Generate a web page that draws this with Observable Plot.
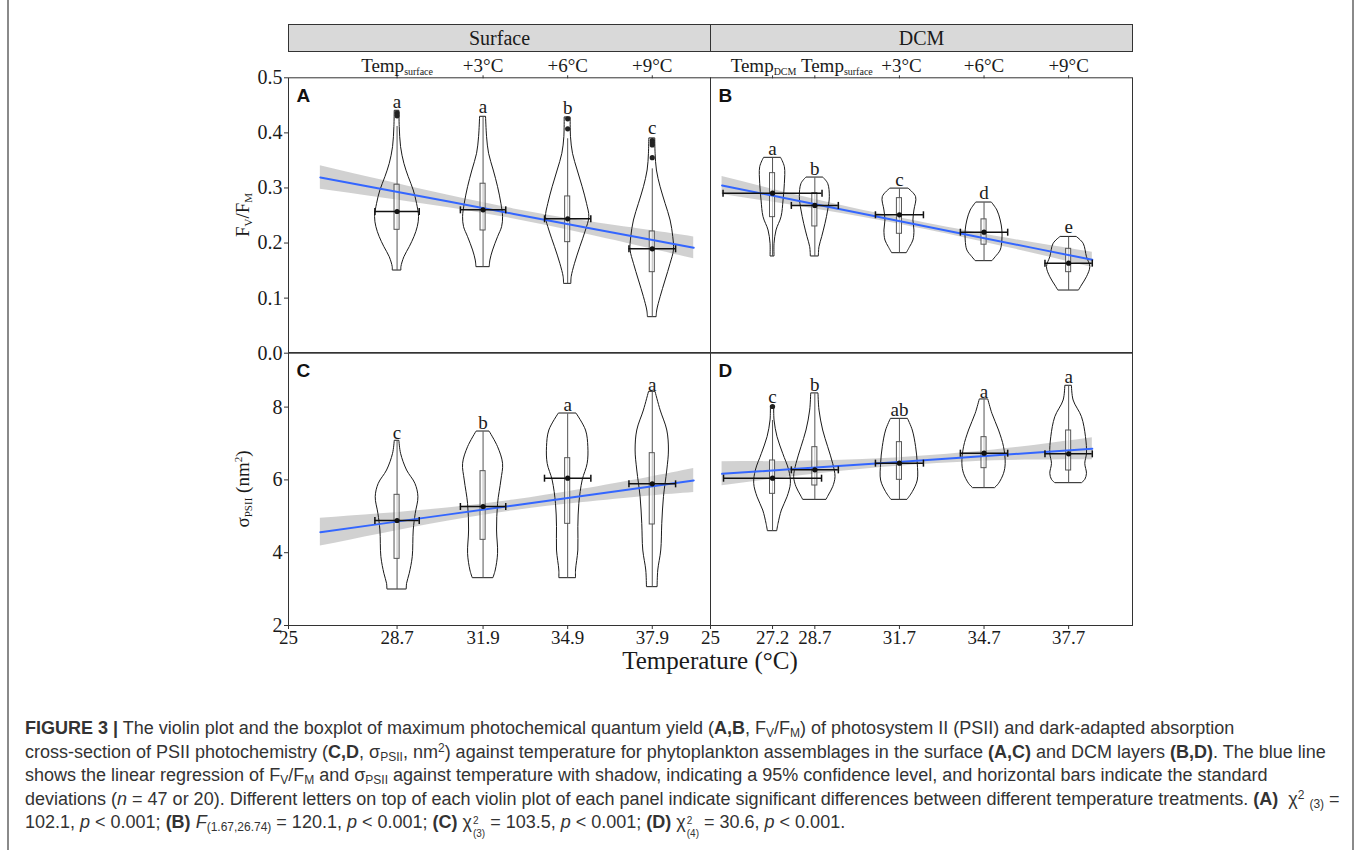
<!DOCTYPE html>
<html>
<head>
<meta charset="utf-8">
<script src="https://cdn.jsdelivr.net/npm/d3@7"></script>
<script src="https://cdn.jsdelivr.net/npm/@observablehq/plot@0.6"></script>
<style>
  html, body { margin: 0; padding: 0; background: #fff; }
  #root { position: relative; width: 1357px; height: 850px; overflow: hidden; background: #fff; }
  .layer { position: absolute; left: 0; top: 0; }
  .strip { position: absolute; top: 24px; height: 28px; box-sizing: border-box; background: #d9d9d9;
           border: 1px solid #333; font: 20px "Liberation Serif", serif; color: #1a1a1a;
           display: flex; align-items: center; justify-content: center; }
  .ylab { position: absolute; transform: translate(-50%, -50%) rotate(-90deg); font: 19px "Liberation Serif", serif;
          color: #1a1a1a; white-space: nowrap; }
  .ylab sub { font-size: 11px; vertical-align: -3px; }
  .ylab sup { font-size: 11px; vertical-align: 7px; }
  .xlab { position: absolute; transform: translate(-50%, -50%); font: 25px "Liberation Serif", serif; color: #1a1a1a; white-space: nowrap; }
  .vline { position: absolute; top: 0; width: 0; height: 850px; border-left: 2px solid #8a8a8a; }
  #caption { position: absolute; left: 25px; top: 717px; font: 18px "Liberation Sans", Arial, sans-serif; color: #333; line-height: 23.5px; }
  #caption div { white-space: nowrap; }
  #caption sub, #caption sup { font-size: 12px; line-height: 0; }
  #caption sub { vertical-align: -3px; }
  #caption sup { vertical-align: 6px; }
  .ss { display: inline-block; vertical-align: -9px; line-height: 13px; font-size: 10px; text-align: left; margin-left: 1px; }
  .ss span { display: block; }
</style>
</head>
<body>
<div id="root"></div>
<script>
// ---------- shared categories / ticks ----------
const xDomain = [25, 39.965];
const surfaceTemps = [28.85, 31.9, 34.9, 37.9];
const surfaceTickLabels = ["28.7", "31.9", "34.9", "37.9"];
const surfaceTopLabels = ["Temp_surface", "+3°C", "+6°C", "+9°C"];
const dcmTemps = [27.2, 28.7, 31.7, 34.7, 37.7];
const dcmTickLabels = ["27.2", "28.7", "31.7", "34.7", "37.7"];
const dcmTopLabels = ["Temp_DCM", "Temp_surface", "+3°C", "+6°C", "+9°C"];
const fvTicks = [0, 0.1, 0.2, 0.3, 0.4, 0.5];
const sigmaTicks = [2, 4, 6, 8];

// ---------- Panel A: Fv/Fm, surface ----------
// violin outline: [value, half-width in °C]
const violinsA = [
  [[0.4394,0.083],[0.4104,0.095],[0.3741,0.142],[0.3438,0.26],[0.3196,0.414],[0.2954,0.591],[0.2712,0.709],[0.2470,0.78],[0.2288,0.733],[0.2107,0.615],[0.1925,0.449],[0.1743,0.26],[0.1562,0.154],[0.1501,0.154]],
  [[0.4285,0.106],[0.3922,0.142],[0.3620,0.213],[0.3317,0.378],[0.3014,0.532],[0.2712,0.65],[0.2470,0.709],[0.2288,0.674],[0.2107,0.532],[0.1865,0.355],[0.1683,0.26],[0.1562,0.236]],
  [[0.4273,0.106],[0.3922,0.118],[0.3620,0.189],[0.3317,0.355],[0.3014,0.532],[0.2712,0.686],[0.2470,0.768],[0.2228,0.65],[0.1925,0.449],[0.1623,0.26],[0.1380,0.142],[0.1259,0.13]],
  [[0.3892,0.106],[0.3620,0.118],[0.3317,0.165],[0.3014,0.296],[0.2712,0.473],[0.2409,0.65],[0.2107,0.745],[0.1865,0.768],[0.1623,0.65],[0.1320,0.473],[0.1017,0.296],[0.0775,0.177],[0.0654,0.154]]
];
const q1A = [0.2240, 0.2228, 0.2016, 0.1471];
const q3A = [0.3059, 0.3077, 0.2846, 0.2210];
const whiskLoA = [0.1501, 0.1562, 0.1259, 0.0654];
const whiskHiA = [0.4116, 0.4285, 0.3893, 0.3347];
const meanA = [0.2573, 0.2603, 0.2440, 0.1895];
const sdTempA = [0.786, 0.804, 0.82, 0.827];
const lettersA = ["a", "a", "b", "c"];
const letterPosA = [0.4558, 0.4479, 0.4455, 0.4092];
const outliersA = [[0, 0.436], [0, 0.431], [2, 0.4255], [2, 0.4074], [3, 0.386], [3, 0.382], [3, 0.378], [3, 0.355]];
// regression: [temperature, fit, lower95, upper95]
const fitA = [[26.13,0.3190,0.2975,0.3405],[28.26,0.2985,0.2823,0.3147],[30.63,0.2757,0.2644,0.2870],[32.99,0.2529,0.2438,0.2620],[35.35,0.2300,0.2187,0.2413],[37.72,0.2073,0.1911,0.2235],[39.37,0.1913,0.1716,0.2110]];

// ---------- Panel B: Fv/Fm, DCM ----------
const violinsB = [
  [[0.3541,0.307],[0.3378,0.437],[0.3075,0.437],[0.2772,0.39],[0.2470,0.319],[0.2228,0.142],[0.1986,0.071],[0.1756,0.071]],
  [[0.3184,0.307],[0.3075,0.473],[0.2833,0.532],[0.2591,0.473],[0.2349,0.378],[0.2107,0.26],[0.1925,0.165],[0.1756,0.142]],
  [[0.2984,0.331],[0.2833,0.591],[0.2591,0.532],[0.2409,0.496],[0.2228,0.532],[0.2046,0.496],[0.1925,0.378],[0.1816,0.26]],
  [[0.2730,0.284],[0.2591,0.473],[0.2409,0.591],[0.2228,0.65],[0.2046,0.65],[0.1865,0.591],[0.1743,0.414],[0.1671,0.296]],
  [[0.2107,0.296],[0.1986,0.532],[0.1743,0.65],[0.1562,0.768],[0.1380,0.65],[0.1229,0.473],[0.1138,0.366]]
];
const q1B = [0.2470, 0.2301, 0.2168, 0.1970, 0.1471];
const q3B = [0.3269, 0.2906, 0.2815, 0.2430, 0.1895];
const whiskLoB = [0.1756, 0.1756, 0.1816, 0.1671, 0.1138];
const whiskHiB = [0.3541, 0.3184, 0.2984, 0.2730, 0.2107];
const meanB = [0.2906, 0.2683, 0.2513, 0.2197, 0.1635];
const sdTempB = [1.755, 0.833, 0.851, 0.839, 0.839];
const lettersB = ["a", "b", "c", "d", "e"];
const letterPosB = [0.3710, 0.3347, 0.3154, 0.2905, 0.2300];
const outliersB = [];
const fitB = [[25.41,0.3045,0.2882,0.3208],[28.19,0.2759,0.2662,0.2856],[31.15,0.2455,0.2394,0.2516],[34.10,0.2151,0.2084,0.2218],[36.47,0.1908,0.1811,0.2005],[38.54,0.1695,0.1556,0.1834]];

// ---------- Panel C: sigma PSII, surface ----------
const violinsC = [
  [[7.064,0.083],[6.716,0.142],[6.258,0.355],[5.892,0.65],[5.525,0.757],[5.068,0.662],[4.610,0.591],[3.877,0.556],[3.419,0.449],[3.144,0.355],[2.989,0.343]],
  [[7.320,0.236],[6.899,0.532],[6.441,0.709],[5.983,0.65],[5.342,0.532],[4.610,0.496],[3.969,0.532],[3.511,0.449],[3.300,0.366]],
  [[7.815,0.319],[7.357,0.65],[6.899,0.733],[6.441,0.709],[5.983,0.532],[5.342,0.414],[4.701,0.378],[4.060,0.378],[3.511,0.296],[3.300,0.296]],
  [[8.410,0.118],[7.907,0.296],[7.357,0.532],[6.808,0.591],[6.258,0.532],[5.525,0.414],[4.793,0.355],[4.060,0.319],[3.511,0.213],[3.053,0.189]]
];
const q1C = [3.831, 4.353, 4.793, 4.775];
const q3C = [5.590, 6.240, 6.597, 6.734];
const whiskLoC = [2.989, 3.300, 3.300, 3.053];
const whiskHiC = [7.064, 7.320, 7.815, 8.410];
const meanC = [4.885, 5.269, 6.047, 5.892];
const sdTempC = [0.786, 0.804, 0.822, 0.827];
const lettersC = ["c", "b", "a", "a"];
const letterPosC = [7.293, 7.559, 8.062, 8.621];
const outliersC = [];
const fitC = [[26.13,4.564,4.184,4.944],[28.26,4.792,4.517,5.067],[30.63,5.046,4.863,5.229],[32.99,5.299,5.152,5.446],[35.35,5.552,5.369,5.735],[37.72,5.806,5.550,6.062],[39.37,5.984,5.654,6.314]];

// ---------- Panel D: sigma PSII, DCM ----------
const violinsD = [
  [[8.016,0.059],[7.632,0.071],[7.174,0.177],[6.716,0.378],[6.258,0.591],[5.892,0.65],[5.525,0.532],[5.159,0.331],[4.793,0.213],[4.591,0.165]],
  [[8.365,0.13],[7.906,0.165],[7.357,0.296],[6.899,0.473],[6.441,0.65],[6.075,0.733],[5.800,0.65],[5.571,0.496],[5.452,0.414]],
  [[7.668,0.307],[7.357,0.473],[6.899,0.591],[6.441,0.65],[5.983,0.65],[5.663,0.473],[5.452,0.284]],
  [[8.200,0.154],[7.815,0.296],[7.357,0.532],[6.899,0.709],[6.441,0.768],[6.167,0.709],[5.892,0.532],[5.773,0.39]],
  [[8.575,0.118],[8.181,0.177],[7.723,0.473],[7.174,0.615],[6.716,0.65],[6.441,0.591],[6.167,0.65],[6.002,0.591],[5.910,0.473]]
];
const q1D = [5.617, 5.846, 6.002, 6.322, 6.258];
const q3D = [6.533, 6.899, 7.037, 7.174, 7.357];
const whiskLoD = [4.591, 5.452, 5.452, 5.773, 5.910];
const whiskHiD = [7.632, 8.365, 7.668, 8.200, 8.575];
const meanD = [6.047, 6.276, 6.460, 6.734, 6.716];
const sdTempD = [1.738, 0.833, 0.851, 0.839, 0.839];
const lettersD = ["c", "b", "ab", "a", "a"];
const letterPosD = [8.273, 8.621, 7.925, 8.410, 8.822];
const outliersD = [[0, 8.016]];
const fitD = [[25.41,6.167,5.837,6.497],[28.19,6.312,6.111,6.513],[31.15,6.467,6.348,6.586],[34.10,6.622,6.494,6.750],[36.47,6.745,6.544,6.946],[38.54,6.854,6.552,7.156]];

// ---------- drawing ----------
const W = 1357, H = 690;
const BOX_HALF = 0.09;  // box half width (°C)
const SERIF = "Liberation Serif, Times New Roman, serif";
const capSymbol = { draw(ctx, size) { const h = Math.sqrt(size / Math.PI); ctx.moveTo(0, -h); ctx.lineTo(0, h); } };

function addSubscripts(svg) {
  for (const t of svg.querySelectorAll("text")) {
    const s = t.textContent;
    if (s.includes("_") && t.children.length === 0) {
      const [a, b] = s.split("_");
      t.textContent = a;
      const ts = document.createElementNS("http://www.w3.org/2000/svg", "tspan");
      ts.setAttribute("font-size", "10");
      ts.setAttribute("dy", "3");
      ts.textContent = b;
      t.appendChild(ts);
    }
  }
}

function panel(cfg) {
  const { temps, violins, q1, q3, lo, hi, mean, sd, letters, letterPos, outliers, fit,
          yDomain, box, tag, yAxis, topLabels, topNudge = {}, bottomTicks, bottomLabels } = cfg;
  const violinRows = violins.flatMap((v, g) => v.map(([y, w]) => ({ g, t: temps[g], y, w })));
  const groups = temps.map((t, i) => ({ t, q1: q1[i], q3: q3[i], lo: lo[i], hi: hi[i], mean: mean[i], sd: sd[i], letter: letters[i], ly: letterPos[i] }));
  const caps = groups.flatMap(d => [{ x: d.t - d.sd, y: d.mean }, { x: d.t + d.sd, y: d.mean }]);
  const outRows = outliers.map(([g, v]) => ({ t: temps[g], v }));
  const fitRows = fit.map(([t, f, l, u]) => ({ t, f, l, u }));
  const marks = [
    Plot.areaY(fitRows, { x: "t", y1: "l", y2: "u", fill: "#bdbdbd", fillOpacity: 0.7, curve: "natural" }),
    Plot.areaX(violinRows, { y: "y", x1: d => d.t - d.w, x2: d => d.t + d.w, z: "g", fill: "none", stroke: "#1a1a1a", strokeWidth: 1, curve: "catmull-rom" }),
    Plot.ruleX(groups, { x: "t", y1: "lo", y2: "hi", stroke: "#555", strokeWidth: 1 }),
    Plot.rect(groups, { x1: d => d.t - BOX_HALF, x2: d => d.t + BOX_HALF, y1: "q1", y2: "q3", fill: "white", fillOpacity: 0.6, stroke: "#555", strokeWidth: 1 }),
    Plot.line(fitRows, { x: "t", y: "f", stroke: "#3366ff", strokeWidth: 2 }),
    Plot.ruleY(groups, { y: "mean", x1: d => d.t - d.sd, x2: d => d.t + d.sd, stroke: "#111", strokeWidth: 1.5 }),
    Plot.dot(caps, { x: "x", y: "y", symbol: capSymbol, r: 3.5, stroke: "#111", strokeWidth: 1.5, fill: "none" }),
    Plot.dot(groups, { x: "t", y: "mean", r: 2.6, fill: "#111" }),
    Plot.dot(outRows, { x: "t", y: "v", r: 2.6, fill: "#222" }),
    Plot.text(groups, { x: "t", y: "ly", text: "letter", fontSize: 19, fontFamily: SERIF, fill: "#1a1a1a" }),
    Plot.text([tag], { text: d => d, frameAnchor: "top-left", lineAnchor: "top", textAnchor: "start", dx: 8, dy: 11, fontSize: 19, fontWeight: "bold", fontFamily: "Liberation Sans, Arial, sans-serif", fill: "#111" }),
    Plot.frame({ stroke: "#333", strokeWidth: 1 })
  ];
  if (yAxis) {
    marks.push(Plot.axisY({ ticks: yAxis.ticks, tickFormat: yAxis.format, tickSize: 4, tickPadding: 2, label: null, fontSize: 20, stroke: "#333" }));
  }
  if (topLabels) {
    marks.push(Plot.axisX({ anchor: "top", ticks: temps, tickFormat: () => "", tickSize: 3, tickPadding: 0, label: null, stroke: "#333" }));
    temps.forEach((t, i) => {
      marks.push(Plot.text([topLabels[i]], { x: [t], text: d => d, frameAnchor: "top", lineAnchor: "bottom",
        dy: -6, dx: topNudge[i] || 0, fontSize: 19, fontFamily: SERIF, fill: "#1a1a1a" }));
    });
  }
  if (bottomTicks) {
    const m = new Map(bottomTicks.map((t, i) => [t, bottomLabels[i]]));
    marks.push(Plot.axisX({ anchor: "bottom", ticks: bottomTicks, tickFormat: d => m.get(d), tickSize: 4, tickPadding: 1, label: null, fontSize: 19, stroke: "#333" }));
  }
  const svg = Plot.plot({
    width: W, height: H,
    marginLeft: box[0], marginRight: W - box[1], marginTop: box[2], marginBottom: H - box[3],
    x: { domain: xDomain, axis: null },
    y: { domain: yDomain, axis: null },
    style: { background: "transparent", fontFamily: SERIF, fontSize: "19px", color: "#1a1a1a", overflow: "visible" },
    marks
  });
  addSubscripts(svg);
  svg.classList.add("layer");
  return svg;
}

const root = document.getElementById("root");

root.appendChild(panel({
  temps: surfaceTemps, violins: violinsA, q1: q1A, q3: q3A, lo: whiskLoA, hi: whiskHiA, mean: meanA, sd: sdTempA,
  letters: lettersA, letterPos: letterPosA, outliers: outliersA, fit: fitA, yDomain: [0, 0.5],
  box: [288, 710, 77.3, 352.7], tag: "A",
  yAxis: { ticks: fvTicks, format: d3.format(".1f") }, topLabels: surfaceTopLabels
}));
root.appendChild(panel({
  temps: dcmTemps, violins: violinsB, q1: q1B, q3: q3B, lo: whiskLoB, hi: whiskHiB, mean: meanB, sd: sdTempB,
  letters: lettersB, letterPos: letterPosB, outliers: outliersB, fit: fitB, yDomain: [0, 0.5],
  box: [710, 1132, 77.3, 352.7], tag: "B", topLabels: dcmTopLabels, topNudge: { 0: -9, 1: 22, 2: 2 }
}));
root.appendChild(panel({
  temps: surfaceTemps, violins: violinsC, q1: q1C, q3: q3C, lo: whiskLoC, hi: whiskHiC, mean: meanC, sd: sdTempC,
  letters: lettersC, letterPos: letterPosC, outliers: outliersC, fit: fitC, yDomain: [2, 9.5],
  box: [288, 710, 352, 625], tag: "C",
  yAxis: { ticks: sigmaTicks, format: d3.format("d") },
  bottomTicks: [25, ...surfaceTemps], bottomLabels: ["25", ...surfaceTickLabels]
}));
root.appendChild(panel({
  temps: dcmTemps, violins: violinsD, q1: q1D, q3: q3D, lo: whiskLoD, hi: whiskHiD, mean: meanD, sd: sdTempD,
  letters: lettersD, letterPos: letterPosD, outliers: outliersD, fit: fitD, yDomain: [2, 9.5],
  box: [710, 1132, 352, 625], tag: "D",
  bottomTicks: [25, ...dcmTemps], bottomLabels: ["25", ...dcmTickLabels]
}));

// strips, axis titles, caption
root.insertAdjacentHTML("beforeend", `
  <div class="strip" style="left:288px;width:423px">Surface</div>
  <div class="strip" style="left:710px;width:423px">DCM</div>
  <div class="ylab" style="left:243px;top:215px">F<sub>V</sub>/F<sub>M</sub></div>
  <div class="ylab" style="left:243px;top:489px">σ<sub>PSII</sub> (nm<sup>2</sup>)</div>
  <div class="xlab" style="left:710px;top:661px">Temperature (°C)</div>
  <div class="vline" style="left:7px"></div>
  <div class="vline" style="left:1352px"></div>
  <div id="caption">
    <div><b>FIGURE 3 |</b> The violin plot and the boxplot of maximum photochemical quantum yield (<b>A,B</b>, F<sub>V</sub>/F<sub>M</sub>) of photosystem II (PSII) and dark-adapted absorption</div>
    <div>cross-section of PSII photochemistry (<b>C,D</b>, σ<sub>PSII</sub>, nm<sup>2</sup>) against temperature for phytoplankton assemblages in the surface <b>(A,C)</b> and DCM layers <b>(B,D)</b>. The blue line</div>
    <div>shows the linear regression of F<sub>V</sub>/F<sub>M</sub> and σ<sub>PSII</sub> against temperature with shadow, indicating a 95% confidence level, and horizontal bars indicate the standard</div>
    <div>deviations (<i>n</i> = 47 or 20). Different letters on top of each violin plot of each panel indicate significant differences between different temperature treatments. <b>(A)</b> &nbsp;χ<sup>2</sup> <sub>(3)</sub> =</div>
    <div>102.1, <i>p</i> &lt; 0.001; <b>(B)</b> <i>F</i><sub>(1.67,26.74)</sub> = 120.1, <i>p</i> &lt; 0.001; <b>(C)</b> χ<span class="ss"><span>2</span><span>(3)</span></span> = 103.5, <i>p</i> &lt; 0.001; <b>(D)</b> χ<span class="ss"><span>2</span><span>(4)</span></span> = 30.6, <i>p</i> &lt; 0.001.</div>
  </div>
`);
</script>
</body>
</html>
